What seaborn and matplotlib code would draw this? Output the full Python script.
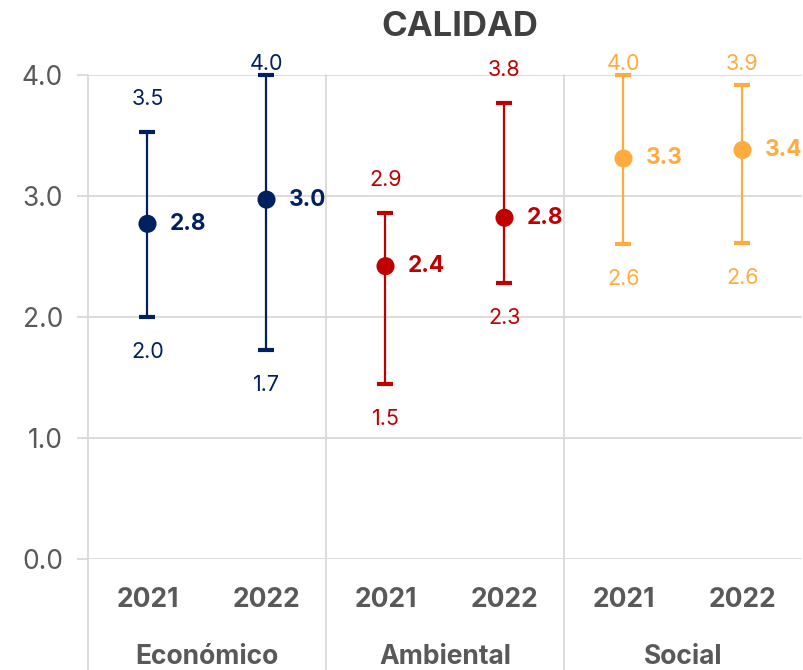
import matplotlib
matplotlib.use("Agg")
import matplotlib.pyplot as plt
import matplotlib.transforms as mtransforms
import seaborn as sns
import pandas as pd
import numpy as np

groups = ["Económico", "Ambiental", "Social"]
years = ["2021", "2022"]
means = [2.77, 2.97, 2.42, 2.82, 3.31, 3.38]
lows = [2.0, 1.73, 1.45, 2.28, 2.60, 2.61]
highs = [3.53, 4.0, 2.86, 3.77, 4.0, 3.92]
mean_labels = ["2.8", "3.0", "2.4", "2.8", "3.3", "3.4"]
low_labels = ["2.0", "1.7", "1.5", "2.3", "2.6", "2.6"]
high_labels = ["3.5", "4.0", "2.9", "3.8", "4.0", "3.9"]
group_colors = ["#002060", "#C00000", "#FFAB40"]
yticks = [0, 1, 2, 3, 4]

sns.set_theme(style="white")
plt.rcParams["font.family"] = ["Inter", "DejaVu Sans"]

rows = []
for gi, g in enumerate(groups):
    for yi, y in enumerate(years):
        i = gi * 2 + yi
        rows.append(dict(group=g, year=y, pos=i, mean=means[i], low=lows[i],
                         high=highs[i], color=group_colors[gi]))
df = pd.DataFrame(rows)

fig = plt.figure(figsize=(8.04, 6.70), dpi=100)
ax = fig.add_axes([88 / 804, 1 - 559 / 670, (802 - 88) / 804, (559 - 75) / 670])

gray_grid = "#D9D9D9"
for t in yticks:
    ax.axhline(t, color=gray_grid, lw=1.3, zorder=0)

for _, r in df.iterrows():
    ax.errorbar(r["pos"], r["mean"],
                yerr=[[r["mean"] - r["low"]], [r["high"] - r["mean"]]],
                fmt="none", ecolor=r["color"], elinewidth=1.6, capsize=6,
                capthick=3, zorder=3, clip_on=False)

sns.scatterplot(data=df, x="pos", y="mean", hue="group", palette=group_colors,
                s=170, edgecolor="none", legend=False, ax=ax, zorder=4)

for _, r in df.iterrows():
    i = int(r["pos"])
    c = r["color"]
    ax.text(i + 0.19, r["mean"], mean_labels[i], color=c, fontsize=16.3,
            fontweight="bold", ha="left", va="center", zorder=5)
    ax.text(i, min(r["high"] + 0.27, 4.09), high_labels[i], color=c,
            fontsize=15.5, ha="center", va="center", zorder=5)
    ax.text(i, r["low"] - 0.29, low_labels[i], color=c, fontsize=15.5,
            ha="center", va="center", zorder=5)

ax.set_xlim(-0.5, 5.5)
ax.set_ylim(0, 4)
ax.set_yticks(yticks)
ax.set_yticklabels([f"{t:.1f}" for t in yticks], fontsize=19, color="#595959")
ax.tick_params(axis="y", length=8, width=1.3, color=gray_grid, pad=10, left=True)
ax.set_xticks(range(6))
ax.set_xticklabels(years * 3, fontsize=19, fontweight="bold", color="#595959")
ax.tick_params(axis="x", length=0, pad=20)
ax.set_xlabel("")
ax.set_ylabel("")
for s in ax.spines.values():
    s.set_visible(False)

trans = mtransforms.blended_transform_factory(ax.transData, ax.transAxes)
for xb in [-0.5, 1.5, 3.5]:
    ax.plot([xb, xb], [-0.23, 1], color=gray_grid, lw=1.3, transform=trans,
            clip_on=False, zorder=1)
for gi, g in enumerate(groups):
    ax.text(gi * 2 + 0.5, -0.203, g, transform=trans, ha="center", va="center",
            fontsize=19, fontweight="bold", color="#595959")

fig.text(460 / 804, 1 - 27 / 670, "CALIDAD", ha="center",
         va="center", fontsize=25, fontweight="bold", color="#404040")

fig.savefig("out.png", dpi=100)
